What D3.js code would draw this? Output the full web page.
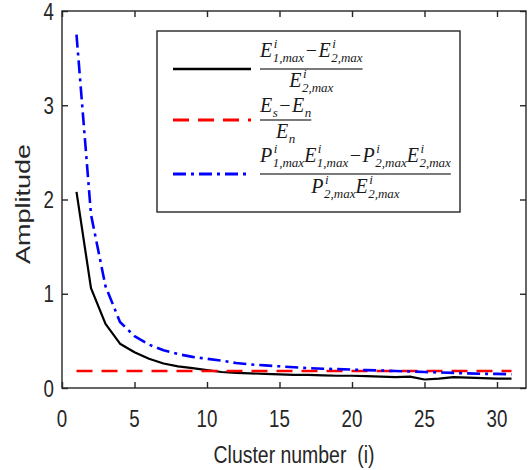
<!DOCTYPE html>
<html>
<head>
<meta charset="utf-8">
<script src="https://cdn.jsdelivr.net/npm/d3@7"></script>
<style>
  html, body { margin: 0; padding: 0; background: #fff; }
  svg { display: block; }
  text { white-space: pre; }
</style>
</head>
<body>
<svg id="chart" width="530" height="470"></svg>
<script>
// Cluster index on the horizontal axis
const clusters = [1, 2, 3, 4, 5, 6, 7, 8, 9, 10, 11, 12, 13, 14, 15, 16,
                  17, 18, 19, 20, 21, 22, 23, 24, 25, 26, 27, 28, 29, 30, 31];

// (E1 - E2) / E2 per cluster
const energyRatio = [2.08, 1.06, 0.68, 0.47, 0.38, 0.31, 0.26, 0.23, 0.21, 0.19,
                     0.17, 0.16, 0.155, 0.15, 0.145, 0.14, 0.14, 0.135, 0.13, 0.13,
                     0.125, 0.12, 0.115, 0.12, 0.09, 0.10, 0.115, 0.11, 0.105, 0.10, 0.10];

// (Es - En) / En, constant level
const signalNoise = [0.18, 0.18, 0.18, 0.18, 0.18, 0.18, 0.18, 0.18, 0.18, 0.18,
                     0.18, 0.18, 0.18, 0.18, 0.18, 0.18, 0.18, 0.18, 0.18, 0.18,
                     0.18, 0.18, 0.18, 0.18, 0.18, 0.18, 0.18, 0.18, 0.18, 0.18, 0.18];

// (P1 E1 - P2 E2) / (P2 E2) per cluster
const powerEnergyRatio = [3.75, 1.84, 1.08, 0.70, 0.55, 0.46, 0.40, 0.36, 0.33, 0.31,
                          0.29, 0.265, 0.25, 0.24, 0.23, 0.22, 0.21, 0.205, 0.20, 0.195,
                          0.19, 0.185, 0.18, 0.175, 0.17, 0.165, 0.16, 0.155, 0.15, 0.15, 0.145];

const xTicks = [0, 5, 10, 15, 20, 25, 30];
const yTicks = [0, 1, 2, 3, 4];
const xTitle = "Cluster number  (i)";
const yTitle = "Amplitude";

const svg = d3.select("#chart");
const axisColor = "#262626";
const plotL = 62, plotR = 526, plotT = 11, plotB = 388;
const squeeze = 0.78;   // narrow sans labels

const x = d3.scaleLinear().domain([0, 32]).range([plotL, plotR]);
const y = d3.scaleLinear().domain([0, 4]).range([plotB, plotT]);

// Frame
svg.append("rect")
  .attr("x", plotL).attr("y", plotT)
  .attr("width", plotR - plotL).attr("height", plotB - plotT)
  .attr("fill", "none").attr("stroke", axisColor).attr("stroke-width", 1.4);

// Inward ticks on all four sides, built from d3 axes
const tickLen = 6;
const gx = svg.append("g").attr("transform", `translate(0,${plotB})`)
  .call(d3.axisTop(x).tickValues(xTicks).tickSize(tickLen).tickFormat(""));
const gx2 = svg.append("g").attr("transform", `translate(0,${plotT})`)
  .call(d3.axisBottom(x).tickValues(xTicks).tickSize(tickLen).tickFormat(""));
const gy = svg.append("g").attr("transform", `translate(${plotL},0)`)
  .call(d3.axisRight(y).tickValues(yTicks).tickSize(tickLen).tickFormat(""));
const gy2 = svg.append("g").attr("transform", `translate(${plotR},0)`)
  .call(d3.axisLeft(y).tickValues(yTicks).tickSize(tickLen).tickFormat(""));
[gx, gx2, gy, gy2].forEach(g => {
  g.select(".domain").remove();
  g.selectAll("line").attr("stroke", axisColor).attr("stroke-width", 1.4);
});

// Tick labels
svg.append("g").selectAll("text").data(xTicks).join("text")
  .attr("transform", d => `translate(${x(d)},427) scale(${squeeze},1)`)
  .attr("text-anchor", "middle")
  .attr("font-family", "'Liberation Sans', Arial, sans-serif")
  .attr("font-size", 24).attr("fill", axisColor)
  .text(d => d);

svg.append("g").selectAll("text").data(yTicks).join("text")
  .attr("transform", d => `translate(54,${y(d) + 8.5}) scale(${squeeze},1)`)
  .attr("text-anchor", "end")
  .attr("font-family", "'Liberation Sans', Arial, sans-serif")
  .attr("font-size", 24).attr("fill", axisColor)
  .text(d => d);

// Axis titles
svg.append("text")
  .attr("transform", `translate(${(plotL + plotR) / 2},463) scale(0.81,1)`)
  .attr("text-anchor", "middle")
  .attr("font-family", "'Liberation Sans', Arial, sans-serif")
  .attr("font-size", 24).attr("fill", axisColor)
  .text(xTitle);

svg.append("text")
  .attr("transform", `translate(30,204) scale(${squeeze},1) rotate(-90)`)
  .attr("text-anchor", "middle")
  .attr("font-family", "'Liberation Sans', Arial, sans-serif")
  .attr("font-size", 27).attr("fill", axisColor)
  .text(yTitle);

// Series
const series = [
  { values: energyRatio, color: "#000000", width: 2.2, dash: null },
  { values: signalNoise, color: "#ff0000", width: 2.6, dash: "16,9" },
  { values: powerEnergyRatio, color: "#0000ff", width: 2.6, dash: "13,5,3,5" }
];

const line = d3.line().x(d => x(d[0])).y(d => y(d[1]));
const plot = svg.append("g");
series.forEach(s => {
  plot.append("path")
    .datum(clusters.map((c, i) => [c, s.values[i]]))
    .attr("d", line)
    .attr("fill", "none")
    .attr("stroke", s.color)
    .attr("stroke-width", s.width)
    .attr("stroke-dasharray", s.dash)
    .attr("stroke-linejoin", "round");
});

// Legend
const legend = svg.append("g");
legend.append("rect")
  .attr("x", 157).attr("y", 31).attr("width", 303).attr("height", 181)
  .attr("fill", "#fff").attr("stroke", axisColor).attr("stroke-width", 1.4);

const mainSize = 20, scriptSize = 13;
const serif = "'Liberation Serif', 'Times New Roman', serif";

// Lays out a run of italic symbols with stacked super/subscripts; returns width.
function mathRun(g, pieces, x0, baseline) {
  let cx = x0;
  pieces.forEach(p => {
    if (p.op) {
      cx += 1.5;
      const t = g.append("text").attr("x", cx).attr("y", baseline)
        .attr("font-family", serif).attr("font-size", mainSize).attr("fill", "#1a1a1a")
        .text(p.op);
      cx += t.node().getComputedTextLength() + 1.5;
      return;
    }
    const b = g.append("text").attr("x", cx).attr("y", baseline)
      .attr("font-family", serif).attr("font-style", "italic")
      .attr("font-size", mainSize).attr("fill", "#1a1a1a")
      .text(p.base);
    cx += b.node().getComputedTextLength() + 0.5;
    let w = 0;
    if (p.sup) {
      const t = g.append("text").attr("x", cx + 1).attr("y", baseline - 9)
        .attr("font-family", serif).attr("font-style", "italic")
        .attr("font-size", scriptSize).attr("fill", "#1a1a1a").text(p.sup);
      w = Math.max(w, t.node().getComputedTextLength() + 1);
    }
    if (p.sub) {
      const t = g.append("text").attr("x", cx).attr("y", baseline + 5)
        .attr("font-family", serif).attr("font-style", "italic")
        .attr("font-size", scriptSize).attr("fill", "#1a1a1a").text(p.sub);
      w = Math.max(w, t.node().getComputedTextLength());
    }
    cx += w;
  });
  return cx - x0;
}

function measureRun(pieces) {
  const tmp = svg.append("g").attr("visibility", "hidden");
  const w = mathRun(tmp, pieces, 0, 0);
  tmp.remove();
  return w;
}

function fraction(num, den, x0, numBase, barY, denBase) {
  const g = legend.append("g");
  const wn = measureRun(num), wd = measureRun(den);
  const w = Math.max(wn, wd);
  mathRun(g, num, x0 + (w - wn) / 2, numBase);
  mathRun(g, den, x0 + (w - wd) / 2, denBase);
  g.append("line")
    .attr("x1", x0).attr("x2", x0 + w).attr("y1", barY).attr("y2", barY)
    .attr("stroke", "#7a7a7a").attr("stroke-width", 1.8);
}

const e1 = { base: "E", sup: "i", sub: "1,max" };
const e2 = { base: "E", sup: "i", sub: "2,max" };
const p1 = { base: "P", sup: "i", sub: "1,max" };
const p2 = { base: "P", sup: "i", sub: "2,max" };
const minus = { op: "\u2212" };

const entries = [
  { s: series[0], y: 69, num: [e1, minus, e2], den: [e2], nb: 57, db: 87 },
  { s: series[1], y: 120, num: [{ base: "E", sub: "s" }, minus, { base: "E", sub: "n" }],
    den: [{ base: "E", sub: "n" }], nb: 112, db: 138 },
  { s: series[2], y: 174, num: [p1, e1, minus, p2, e2], den: [p2, e2], nb: 162, db: 193 }
];

entries.forEach(en => {
  legend.append("line")
    .attr("x1", 173).attr("x2", 251).attr("y1", en.y).attr("y2", en.y)
    .attr("stroke", en.s.color).attr("stroke-width", en.s.width + 0.4)
    .attr("stroke-dasharray", en.s.dash);
  fraction(en.num, en.den, 260, en.nb, en.y, en.db);
});
</script>
</body>
</html>
